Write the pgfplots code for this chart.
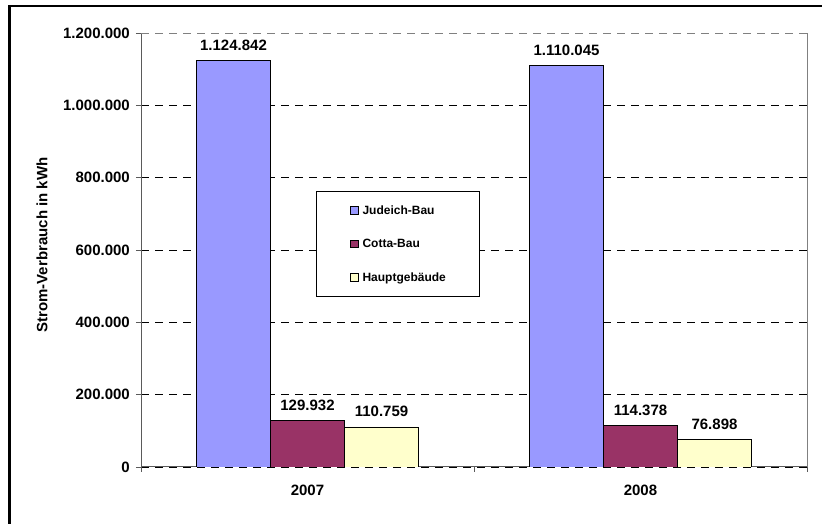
\documentclass[border=0pt]{standalone}
\usepackage{pgfplots}
\pgfplotsset{compat=1.18}
\usepackage{fontspec}
\setmainfont{Liberation Sans}
\definecolor{judeich}{HTML}{9999FF}
\definecolor{cotta}{HTML}{993366}
\definecolor{haupt}{HTML}{FFFFCC}
\definecolor{axgray}{HTML}{5A5A5A}
\definecolor{bordergray}{HTML}{808080}
\begin{document}
\begin{tikzpicture}
\useasboundingbox (0,0) rectangle (822pt,524pt);
\draw[line width=2.7pt] (9.5pt,-10pt) -- (9.5pt,518pt) -- (830pt,518pt);
\begin{axis}[
 at={(141pt,57pt)}, anchor=south west,
 scale only axis, width=666pt, height=434pt,
 xmin=-0.5, xmax=1.5, ymin=0, ymax=1200000,
 ybar=0pt, bar width=74pt,
 axis x line*=bottom, axis y line*=left,
 axis line style={axgray, line width=1pt},
 xtick={0,1}, xticklabels={2007,2008},
 minor xtick={-0.5,0.5,1.5},
 major x tick style={draw=none},
 minor x tick style={axgray, line width=0.8pt},
 minor tick length=5pt, major tick length=5pt, tick align=outside,
 y tick style={axgray, line width=0.8pt},
 ytick={0,200000,400000,600000,800000,1000000},
 extra y ticks={1200000},
 extra y tick style={grid style={bordergray, line width=0.8pt, dash pattern=on 8pt off 6pt}},
 scaled y ticks=false,
 ymajorgrids,
 grid style={black, line width=0.8pt, dash pattern=on 8pt off 6pt},
 yticklabel={\pgfmathprintnumber[fixed,precision=0,1000 sep={.},assume math mode=true]{\tick}},
 yticklabel style={font=\bfseries\fontsize{15}{18}\selectfont, inner sep=0pt, xshift=-6pt},
 xticklabel style={font=\bfseries\fontsize{15}{18}\selectfont, inner sep=0pt, yshift=-13pt},
 ylabel={Strom-Verbrauch in kWh},
 every axis y label/.style={at={(axis description cs:-0.1486,0.5115)}, rotate=90, anchor=center, font=\bfseries\fontsize{15}{18}\selectfont},
 nodes near coords={\pgfmathprintnumber[fixed,precision=0,1000 sep={.},assume math mode=true]{\pgfplotspointmeta}},
 every node near coord/.append style={font=\bfseries\fontsize{15}{18}\selectfont, inner sep=0pt, yshift=9.5pt, text=black},
 legend style={at={(rel axis cs:0.2628,0.6366)}, anchor=north west, draw=black, line width=0.8pt, fill=white,
   inner xsep=34pt, inner ysep=13pt, row sep=21.5pt, font=\bfseries\fontsize{12}{14}\selectfont,
   nodes={inner sep=0pt, text height=10pt, text depth=2pt},
   /tikz/every odd column/.append style={column sep=4pt}},
 legend cell align=left,
 legend image code/.code={\draw[#1, line width=0.6pt, draw=black] (0pt,-3.75pt) rectangle (7.5pt,3.75pt);},
 after end axis/.code={\draw[bordergray, line width=0.8pt] (rel axis cs:1,0) -- (rel axis cs:1,1);},
]
\addplot[fill=judeich, draw=black, line width=0.6pt] coordinates {(0,1124842) (1,1110045)};
\addplot[fill=cotta, draw=black, line width=0.6pt] coordinates {(0,129932) (1,114378)};
\addplot[fill=haupt, draw=black, line width=0.6pt] coordinates {(0,110759) (1,76898)};
\legend{Judeich-Bau, Cotta-Bau, Hauptgebäude}
\end{axis}
\end{tikzpicture}
\end{document}
